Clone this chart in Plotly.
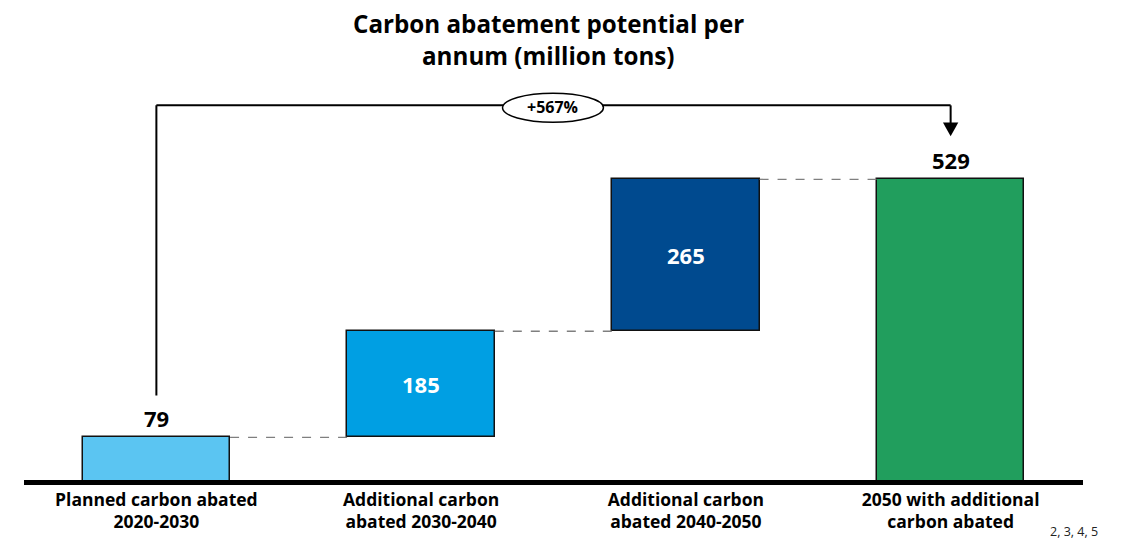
import plotly.graph_objects as go

categories = ["Planned carbon abated<br>2020-2030",
              "Additional carbon<br>abated 2030-2040",
              "Additional carbon<br>abated 2040-2050",
              "2050 with additional<br>carbon abated"]
values = [79, 185, 265, 529]
measures = ["absolute", "relative", "relative", "total"]
colors = ["#5BC5F2", "#009FE3", "#004A8F", "#219E5D"]
growth_label = "+567%"
title_lines = ["Carbon abatement potential per", "annum (million tons)"]
footnote = "2, 3, 4, 5"

FONT = "Open Sans"

# page body has an 8px margin: figure is shifted by 8px
W, H = 1126 - 16, 550 - 16
PL, PT, PW, PH = 23.5, 50, 1060, 437          # plot area in reference pixels
px_per_unit = 0.5733
y_min = -(PT + PH - 482.6) / px_per_unit
y_max = (482.6 - PT) / px_per_unit


def px_x(p):
    return (p - PL) / PW


def px_y(p):
    return (PT + PH - p) / PH


# compute bases for floating bars
bases, tops = [], []
running = 0
for v, m in zip(values, measures):
    if m == "relative":
        base = running
        running += v
    else:
        base = 0
        running = v
    bases.append(base)
    tops.append(base + v)

xs = list(range(len(values)))
bar_w = 147.5 / 265

fig = go.Figure()
fig.add_trace(go.Bar(
    x=xs, y=values, base=bases, width=bar_w,
    marker=dict(color=colors, line=dict(color="#111111", width=1.5)),
    showlegend=False, hoverinfo="skip",
))

ann = []
for i, (v, m) in enumerate(zip(values, measures)):
    if m == "relative":
        ann.append(dict(x=i, y=bases[i] + v / 2, text=f"<b>{v}</b>", showarrow=False,
                        font=dict(family=FONT, size=22, color="white"), xref="x", yref="y",
                        yanchor="middle"))
    else:
        ann.append(dict(x=i, y=tops[i], text=f"<b>{v}</b>", showarrow=False, yanchor="middle",
                        yshift=19, font=dict(family=FONT, size=22, color="black"),
                        xref="x", yref="y"))

shapes = []
# dashed connectors
for i in range(len(values) - 1):
    shapes.append(dict(type="line", xref="x", yref="y",
                       x0=i + bar_w / 2, x1=i + 1 - bar_w / 2, y0=tops[i], y1=tops[i],
                       line=dict(color="#7F7F7F", width=1.3, dash="dash")))

# baseline
shapes.append(dict(type="line", xref="paper", yref="y", x0=0, x1=1, y0=0, y1=0,
                   line=dict(color="black", width=5), layer="above"))

# bracket
bracket_y = 658
first, last = 0, len(values) - 1
blk = dict(color="black", width=2)
shapes.append(dict(type="line", xref="x", yref="y", x0=first, x1=first, y0=152, y1=bracket_y, line=blk))
shapes.append(dict(type="line", xref="x", yref="y", x0=first, x1=last, y0=bracket_y, y1=bracket_y, line=blk))
shapes.append(dict(type="line", xref="x", yref="y", x0=last, x1=last, y0=bracket_y, y1=624, line=blk))
shapes.append(dict(type="path", xref="x", yref="y",
                   path=f"M {last-0.029},{628} L {last+0.029},{628} L {last},{604} Z",
                   fillcolor="black", line=dict(color="black", width=0)))
mid = 1.498
shapes.append(dict(type="circle", xref="x", yref="y",
                   x0=mid - 0.1906, x1=mid + 0.1906, y0=628.5, y1=679,
                   fillcolor="white", line=dict(color="black", width=1.5)))
ann.append(dict(x=mid, y=656, text=f"<b>{growth_label}</b>", showarrow=False, yanchor="middle",
                font=dict(family=FONT, size=16, color="black"), xref="x", yref="y"))

# title
for line, cy in zip(title_lines, [23, 56]):
    ann.append(dict(x=px_x(548), y=px_y(cy), xref="paper", yref="paper", text=f"<b>{line}</b>",
                    showarrow=False, font=dict(family=FONT, size=24.2, color="black"),
                    xanchor="center", yanchor="middle"))
# footnote (kept inside the figure's bottom edge)
ann.append(dict(x=px_x(1101), y=px_y(541.5), xref="paper", yref="paper", text=footnote,
                showarrow=False, font=dict(family=FONT, size=12.5, color="#222222"),
                xanchor="right", yanchor="bottom"))

fig.update_layout(
    width=W, height=H,
    margin=dict(l=PL - 8, r=W - (PL - 8) - PW, t=PT - 8, b=H - (PT - 8) - PH),
    paper_bgcolor="white", plot_bgcolor="white",
    annotations=ann, shapes=shapes,
    xaxis=dict(range=[-0.5, 3.5], tickvals=xs, ticktext=[f"<b>{c}</b>" for c in categories],
               showgrid=False, zeroline=False, showline=False, automargin=False,
               ticks="", tickfont=dict(family=FONT, size=17.5, color="black"), fixedrange=True),
    yaxis=dict(range=[y_min, y_max], visible=False, showgrid=False, zeroline=False,
               automargin=False, fixedrange=True),
    bargap=0,
)

fig.write_html("out.html")
